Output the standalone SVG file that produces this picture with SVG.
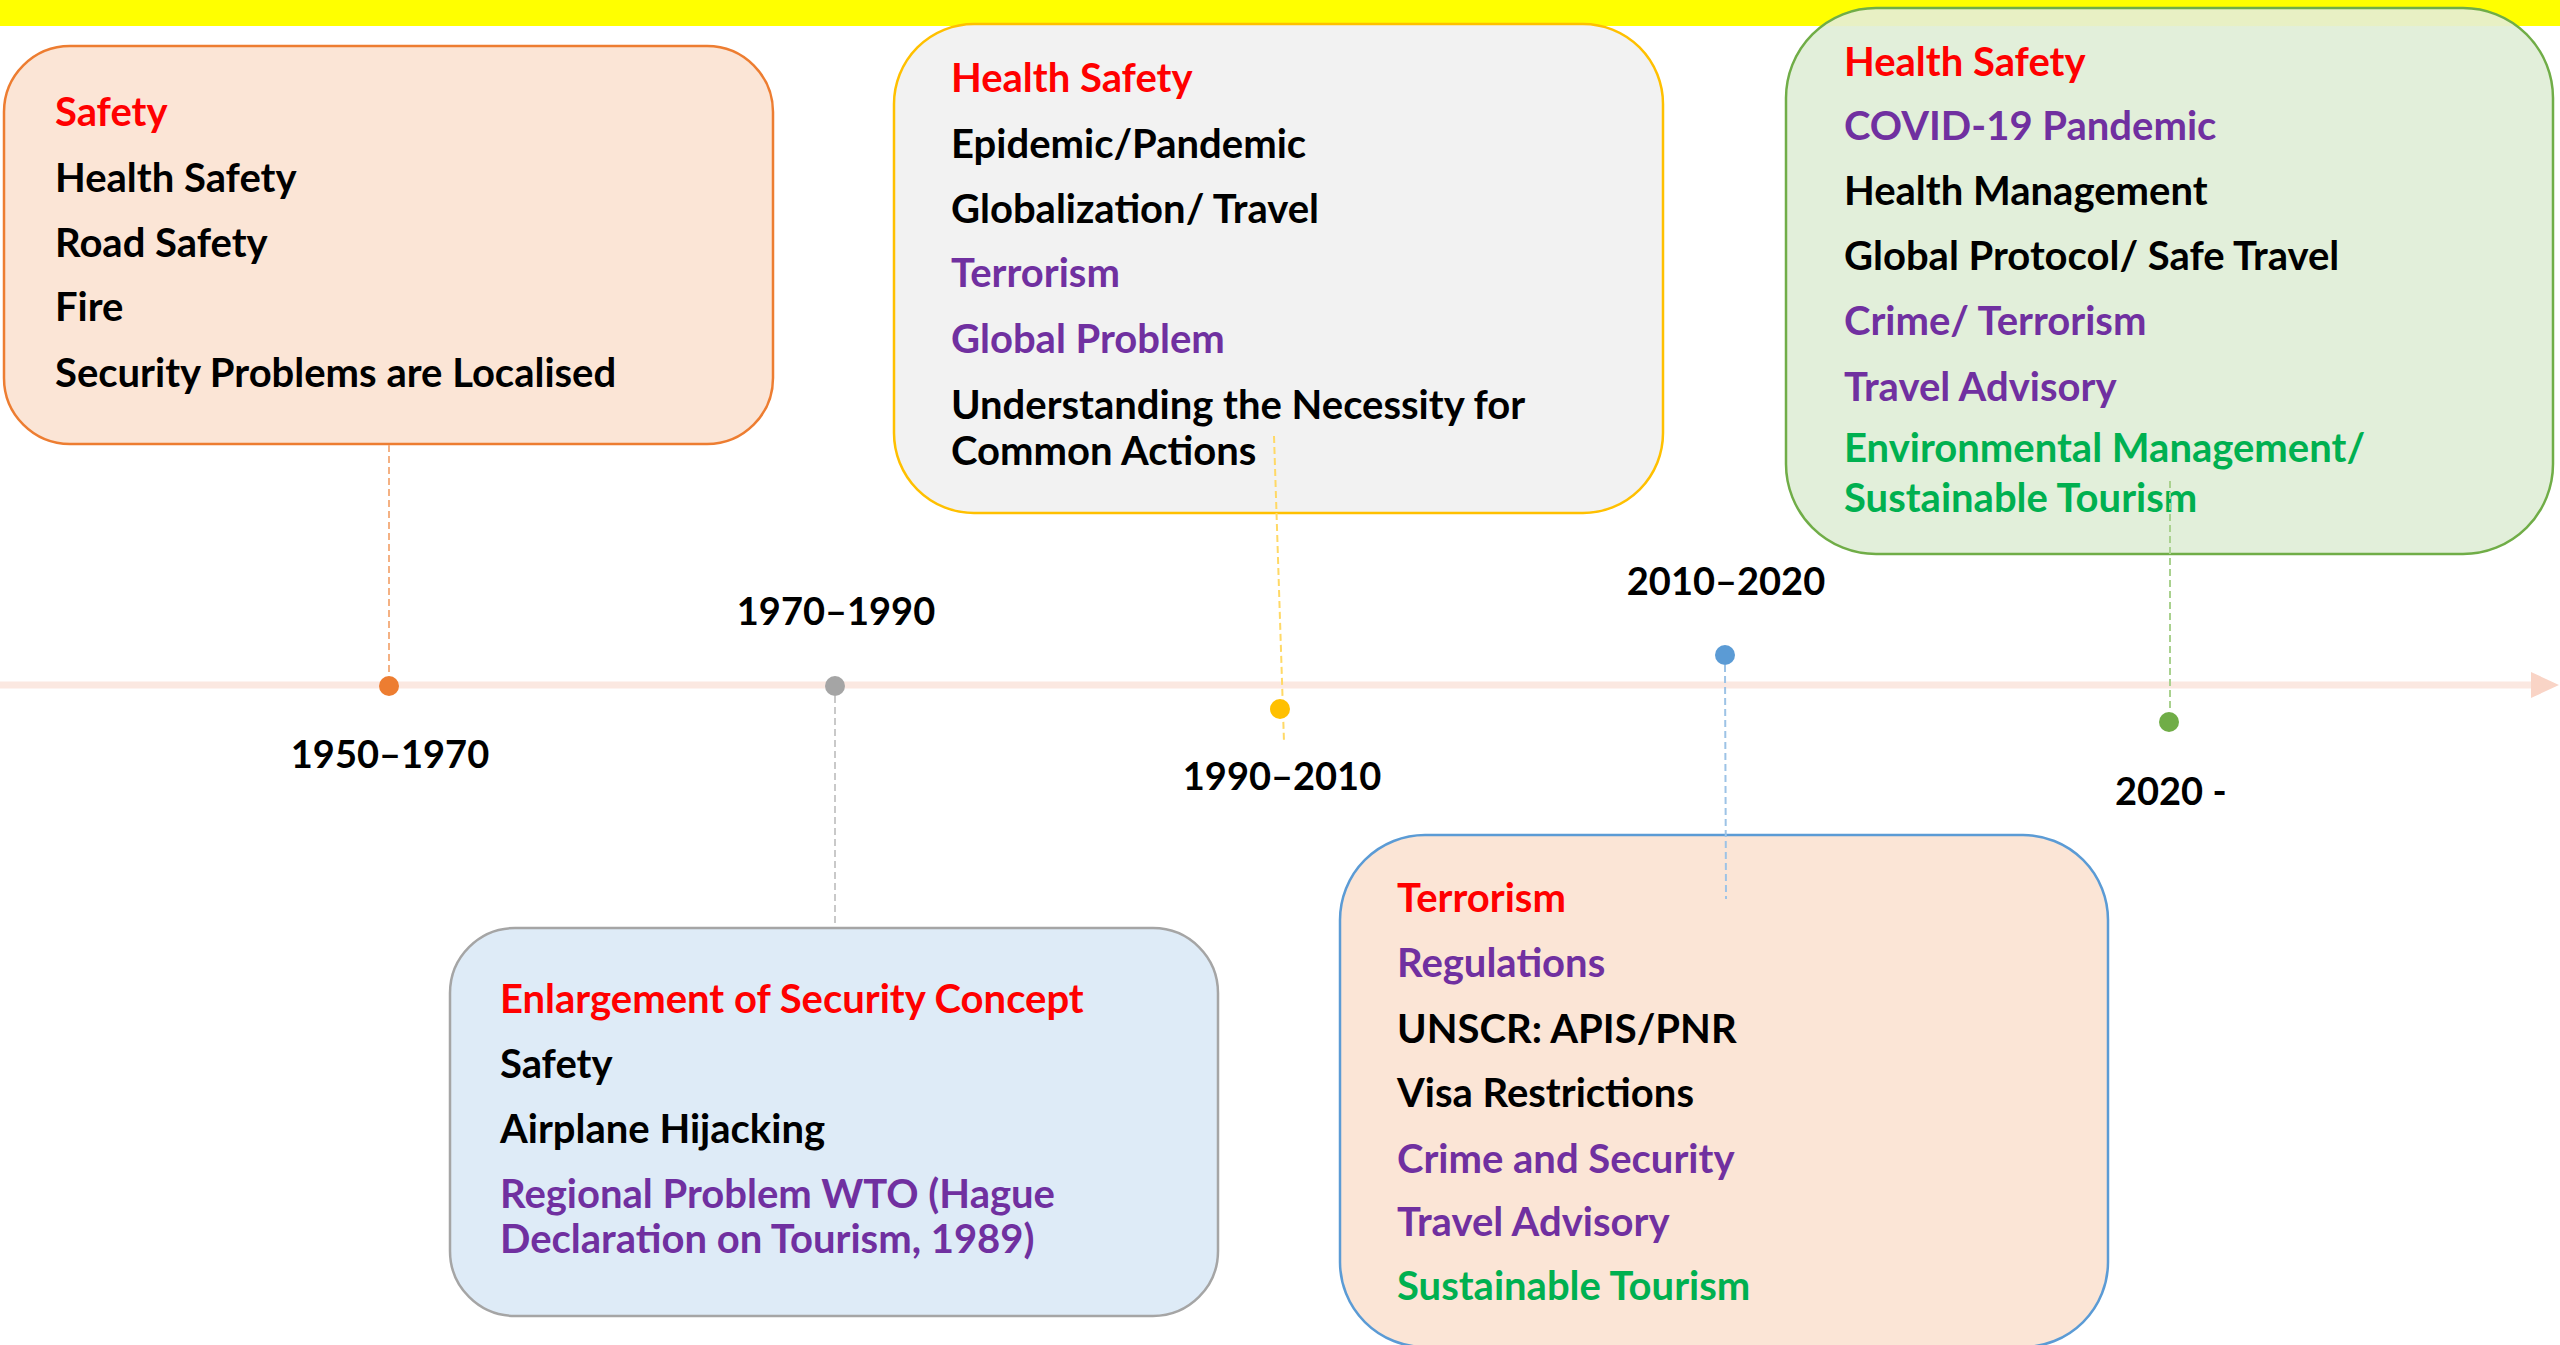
<svg xmlns="http://www.w3.org/2000/svg" width="2560" height="1345" viewBox="0 0 2560 1345">
<style>
  text { font-family: Lato, "Liberation Sans", "Noto Sans", sans-serif; font-weight: 700; font-size: 40px; }
  .r { fill: #FF0000; }
  .p { fill: #7030A0; }
  .k { fill: #000000; }
  .g { fill: #00B050; }
  .yr { fill: #000000; font-size: 38px; }
  .mid { text-anchor: middle; }
  .box { stroke-width: 2.5; }
  .conn { fill: none; stroke-width: 2; stroke-dasharray: 7 4; }
  .dot { stroke: none; }
</style>
<defs>
  <linearGradient id="g3" gradientUnits="userSpaceOnUse" x1="0" y1="8" x2="0" y2="554">
    <stop offset="0" stop-color="#E8F0C4"/>
    <stop offset="0.033" stop-color="#E8F0C4"/>
    <stop offset="0.034" stop-color="#E2EFDA"/>
    <stop offset="1" stop-color="#E2EFDA"/>
  </linearGradient>
  <marker id="arr" markerUnits="userSpaceOnUse" markerWidth="30" markerHeight="28" refX="0" refY="13" orient="auto">
    <polygon points="0,0 28,13 0,26" fill="#F9D4C6"/>
  </marker>
</defs>

<rect id="band" x="0" y="0" width="2560" height="26" fill="#FFFF00"/>

<g id="box-1950">
  <rect class="box" x="4" y="46" width="769" height="398" rx="66" ry="66" fill="#FBE5D6" stroke="#ED7D31"/>
  <text x="55" y="126" class="r">Safety</text>
  <text x="55" y="192" class="k">Health Safety</text>
  <text x="55" y="257" class="k">Road Safety</text>
  <text x="55" y="321" class="k">Fire</text>
  <text x="55" y="387" class="k">Security Problems are Localised</text>
</g>

<g id="box-1990">
  <rect class="box" x="894" y="24" width="769" height="489" rx="80" ry="80" fill="#F2F2F2" stroke="#FFC000"/>
  <text x="951" y="92" class="r">Health Safety</text>
  <text x="951" y="158" class="k">Epidemic/Pandemic</text>
  <text x="951" y="223" class="k">Globalization/ Travel</text>
  <text x="951" y="287" class="p">Terrorism</text>
  <text x="951" y="353" class="p">Global Problem</text>
  <text x="951" y="419" class="k">Understanding the Necessity for</text>
  <text x="951" y="465" class="k">Common Actions</text>
</g>

<g id="box-2020">
  <rect class="box" x="1786" y="8" width="767" height="546" rx="90" ry="90" fill="url(#g3)" stroke="#70AD47"/>
  <text x="1844" y="76" class="r">Health Safety</text>
  <text x="1844" y="140" class="p">COVID-19 Pandemic</text>
  <text x="1844" y="205" class="k">Health Management</text>
  <text x="1844" y="270" class="k">Global Protocol/ Safe Travel</text>
  <text x="1844" y="335" class="p">Crime/ Terrorism</text>
  <text x="1844" y="401" class="p">Travel Advisory</text>
  <text x="1844" y="462" class="g">Environmental Management/</text>
  <text x="1844" y="512" class="g">Sustainable Tourism</text>
</g>

<g id="box-1970">
  <rect class="box" x="450" y="928" width="768" height="388" rx="65" ry="65" fill="#DEEBF7" stroke="#A5A5A5"/>
  <text x="500" y="1013" class="r">Enlargement of Security Concept</text>
  <text x="500" y="1078" class="k">Safety</text>
  <text x="500" y="1143" class="k">Airplane Hijacking</text>
  <text x="500" y="1208" class="p">Regional Problem WTO (Hague</text>
  <text x="500" y="1253" class="p">Declaration on Tourism, 1989)</text>
</g>

<g id="box-2010">
  <rect class="box" x="1340" y="835" width="768" height="512" rx="85" ry="85" fill="#FBE5D6" stroke="#5B9BD5"/>
  <text x="1397" y="912" class="r">Terrorism</text>
  <text x="1397" y="977" class="p">Regulations</text>
  <text x="1397" y="1043" class="k">UNSCR: APIS/PNR</text>
  <text x="1397" y="1107" class="k">Visa Restrictions</text>
  <text x="1397" y="1173" class="p">Crime and Security</text>
  <text x="1397" y="1236" class="p">Travel Advisory</text>
  <text x="1397" y="1300" class="g">Sustainable Tourism</text>
</g>

<g id="connectors">
  <line id="timeline" x1="0" y1="685" x2="2531" y2="685" stroke="#FBE8E1" stroke-width="7" marker-end="url(#arr)"/>
  <line class="conn" x1="389" y1="445" x2="389" y2="676" stroke="#F4B183"/>
  <line class="conn" x1="835" y1="696" x2="835" y2="927" stroke="#C9C9C9"/>
  <line class="conn" x1="1274" y1="436" x2="1284" y2="742" stroke="#FFD966"/>
  <line class="conn" x1="1725" y1="665" x2="1726" y2="899" stroke="#9DC3E6"/>
  <line class="conn" x1="2170" y1="481" x2="2170" y2="712" stroke="#A9D18E"/>
</g>

<g id="dots">
  <circle class="dot" cx="389" cy="686" r="10" fill="#ED7D31"/>
  <circle class="dot" cx="835" cy="686" r="10" fill="#A5A5A5"/>
  <circle class="dot" cx="1280" cy="709" r="10" fill="#FFC000"/>
  <circle class="dot" cx="1725" cy="655" r="10" fill="#5B9BD5"/>
  <circle class="dot" cx="2169" cy="722" r="10" fill="#70AD47"/>
</g>

<g id="year-labels">
  <text x="390" y="768" class="yr mid">1950–1970</text>
  <text x="836" y="625" class="yr mid">1970–1990</text>
  <text x="1282" y="790" class="yr mid">1990–2010</text>
  <text x="1726" y="595" class="yr mid">2010–2020</text>
  <text x="2115" y="805" class="yr">2020 -</text>
</g>
</svg>
